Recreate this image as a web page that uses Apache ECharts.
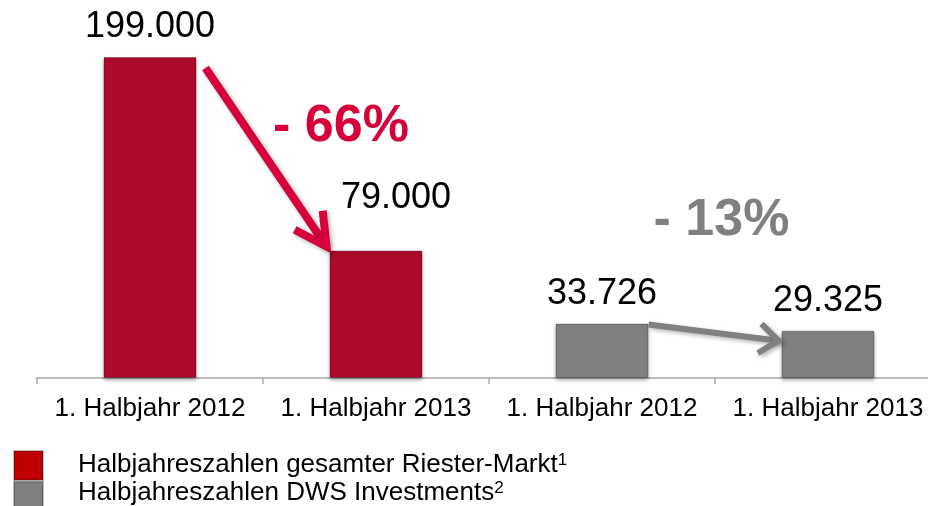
<!DOCTYPE html>
<html>
<head>
<meta charset="utf-8">
<script src="https://cdn.jsdelivr.net/npm/echarts@6/dist/echarts.min.js"></script>
<style>
  html, body { margin: 0; padding: 0; background: #fff; overflow: hidden; }
  /* the axis runs a little past the right edge of the window, as in the slide */
  #chart { width: 941px; height: 506px; }
</style>
</head>
<body>
<div id="chart"></div>
<script>
const categories = ['1. Halbjahr 2012', '1. Halbjahr 2013', '1. Halbjahr 2012', '1. Halbjahr 2013'];
const riesterValues = [199000, 79000, null, null];
const dwsValues = [null, null, 33726, 29325];
const seriesNames = ['Halbjahreszahlen gesamter Riester-Markt', 'Halbjahreszahlen DWS Investments'];
const footnotes = ['1', '2'];
const changeLabels = ['- 66%', '- 13%'];

const barRed = '#AD0A2E';
const textRed = '#D6003B';
const gray = '#808080';
const font = 'Liberation Sans, Arial, sans-serif';
const barW = 93;

// 199000 -> 199.000
function fmt(v) {
  return String(v).replace(/\B(?=(\d{3})+(?!\d))/g, '.');
}

const chart = echarts.init(document.getElementById('chart'));

const barLabel = {
  show: true,
  position: 'top',
  distance: 12,
  fontSize: 36,
  color: '#000',
  fontFamily: font,
  formatter: p => fmt(p.value)
};
const barShadow = {
  borderColor: 'rgba(0,0,0,0.25)',
  borderWidth: 1,
  shadowBlur: 4,
  shadowColor: 'rgba(0,0,0,0.35)',
  shadowOffsetY: 2
};

// one legend per row, so both rows stay in the left column
function legendRow(i, top, color, padBottom) {
  return {
    left: 8,
    top: top,
    itemWidth: 29,
    itemHeight: 29,
    icon: 'rect',
    selectedMode: false,
    data: [{ name: seriesNames[i], itemStyle: { color: color } }],
    formatter: name => '{t|' + name + '}{s|' + footnotes[i] + '}',
    textStyle: {
      padding: [0, 0, padBottom, 30],
      rich: {
        t: { fontSize: 26, color: '#000', fontFamily: font },
        s: { fontSize: 17, color: '#000', fontFamily: font, verticalAlign: 'top' }
      }
    }
  };
}

chart.setOption({
  animation: false,
  textStyle: { fontFamily: font },
  grid: { left: 37, right: 0, top: 57, bottom: 128 },
  xAxis: {
    type: 'category',
    data: categories,
    axisLine: { lineStyle: { color: '#A6A6A6', width: 1.5 } },
    axisTick: { show: true, length: 6, interval: 0, lineStyle: { color: '#A6A6A6', width: 1.5 } },
    axisLabel: { fontSize: 26, color: '#000', margin: 18, interval: 0 }
  },
  yAxis: { type: 'value', min: 0, max: 199000, show: false, splitLine: { show: false } },
  legend: [legendRow(0, 445, '#C00000', 2), legendRow(1, 475, gray, 6)],
  series: [
    {
      name: seriesNames[0],
      type: 'bar',
      barWidth: barW,
      barGap: '-100%',
      // second label sits higher and to the right, out of the arrow's way
      data: riesterValues.map((v, i) => i === 1 ? { value: v, label: { distance: 34, offset: [20, 0] } } : v),
      itemStyle: Object.assign({ color: barRed }, barShadow),
      label: barLabel
    },
    {
      name: seriesNames[1],
      type: 'bar',
      barWidth: barW,
      barGap: '-100%',
      data: dwsValues,
      itemStyle: Object.assign({ color: gray }, barShadow),
      label: barLabel
    }
  ]
});

// arrows + change labels, placed from the bar positions
function px(i, v) {
  return chart.convertToPixel({ xAxisIndex: 0, yAxisIndex: 0 }, [i, v]);
}
const half = barW / 2;
const a = px(0, riesterValues[0]);
const b = px(1, riesterValues[1]);
const c = px(2, dwsValues[2]);
const d = px(3, dwsValues[3]);

function arrow(x1, y1, x2, y2, color, width, headLen, headAng, shadow) {
  const ang = Math.atan2(y1 - y2, x1 - x2);
  const h1 = [x2 + headLen * Math.cos(ang + headAng), y2 + headLen * Math.sin(ang + headAng)];
  const h2 = [x2 + headLen * Math.cos(ang - headAng), y2 + headLen * Math.sin(ang - headAng)];
  const style = Object.assign({ stroke: color, lineWidth: width, fill: null, lineCap: 'butt', lineJoin: 'miter' }, shadow);
  return [
    { type: 'line', silent: true, z: 100, shape: { x1: x1, y1: y1, x2: x2, y2: y2 }, style: style },
    { type: 'polyline', silent: true, z: 100, shape: { points: [h1, [x2, y2], h2] }, style: style }
  ];
}

const shadow = { shadowBlur: 4, shadowColor: 'rgba(0,0,0,0.3)', shadowOffsetX: 2, shadowOffsetY: 2 };
const r1 = [a[0] + half + 9, a[1] + 11];
const r2 = [b[0] - half - 3, b[1] - 4];
const g1 = [c[0] + half, c[1] + 1];
const g2 = [d[0] - half - 3, d[1] + 10];

chart.setOption({
  graphic: [].concat(
    arrow(r1[0], r1[1], r2[0], r2[1], textRed, 8, 36, 0.49, shadow),
    arrow(g1[0], g1[1], g2[0], g2[1], gray, 6, 24, 0.66, shadow),
    [
      {
        type: 'text', silent: true, z: 100,
        x: (r1[0] + r2[0]) / 2 + 75, y: (r1[1] + r2[1]) / 2 - 31,
        style: { text: changeLabels[0], fontSize: 52, fontWeight: 'bold', fontFamily: font, fill: textRed, align: 'center', verticalAlign: 'middle' }
      },
      {
        type: 'text', silent: true, z: 100,
        x: (g1[0] + g2[0]) / 2 + 8, y: (g1[1] + g2[1]) / 2 - 112,
        style: { text: changeLabels[1], fontSize: 52, fontWeight: 'bold', fontFamily: font, fill: gray, align: 'center', verticalAlign: 'middle' }
      }
    ]
  )
});
</script>
</body>
</html>
